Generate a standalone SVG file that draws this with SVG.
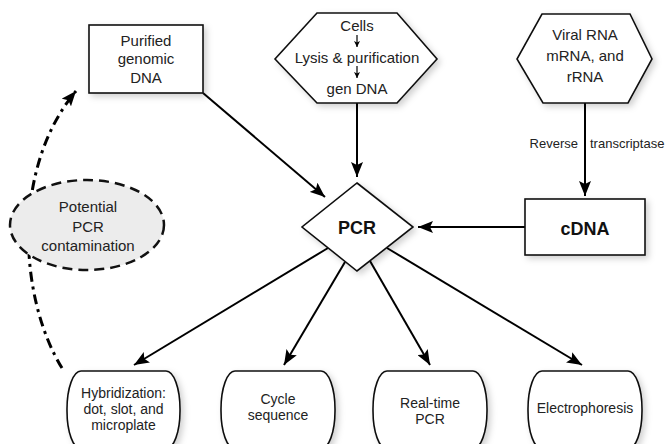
<svg xmlns="http://www.w3.org/2000/svg" width="670" height="444" viewBox="0 0 670 444">
<defs>
<style>
.box{fill:#fff;stroke:#111;stroke-width:1.6;filter:url(#sh)}
.t{font-family:"Liberation Sans",Arial,sans-serif;font-size:15px;fill:#222;text-anchor:middle}
.s{font-size:14px}
.b{font-weight:bold;font-size:18px;fill:#111}
.ln{stroke:#000;stroke-width:2;fill:none;marker-end:url(#ah)}
</style>
<filter id="sh" x="-20%" y="-20%" width="140%" height="140%">
<feDropShadow dx="3" dy="3" stdDeviation="3" flood-color="#000" flood-opacity="0.18"/>
</filter>
<marker id="ah" markerUnits="userSpaceOnUse" markerWidth="16" markerHeight="12" refX="15" refY="6" orient="auto">
<path d="M0,0 L15,6 L0,12 L3,6 z" fill="#000"/>
</marker>
<marker id="ahs" markerUnits="userSpaceOnUse" markerWidth="8" markerHeight="8" refX="6" refY="3" orient="auto">
<path d="M0,0 L6,3 L0,6 L1.5,3 z" fill="#000"/>
</marker>
</defs>

<g id="connectors">
<path class="ln" d="M203,93 L325,197"/>
<path class="ln" d="M357,103 L357,177"/>
<path class="ln" d="M585,103 L585,196"/>
<path class="ln" d="M525,227 L418,227"/>
<path class="ln" d="M328,248 L134,365"/>
<path class="ln" d="M345,262 L284,365"/>
<path class="ln" d="M370,261 L430,365"/>
<path class="ln" d="M387,248 L582,365"/>
<path d="M62,368 C20,300 10,170 76,91" fill="none" stroke="#000" stroke-width="3" stroke-dasharray="10 5 3 5" marker-end="url(#ah)"/>
<text class="t" x="578" y="148" style="font-size:13px;text-anchor:end">Reverse</text>
<text class="t" x="590" y="148" style="font-size:13px;text-anchor:start">transcriptase</text>
</g>

<g id="purified">
<rect class="box" x="89" y="25" width="114" height="68"/>
<text class="t" x="146" y="46">Purified</text>
<text class="t" x="146" y="64">genomic</text>
<text class="t" x="146" y="83">DNA</text>
</g>

<g id="cells">
<path class="box" d="M317,13 L397,13 L437,59 L397,103 L317,103 L275,59 Z"/>
<text class="t" x="357" y="31">Cells</text>
<path d="M357,35 L357,47" stroke="#000" stroke-width="1.2" marker-end="url(#ahs)"/>
<text class="t" x="357" y="63">Lysis &amp; purification</text>
<path d="M357,66 L357,78" stroke="#000" stroke-width="1.2" marker-end="url(#ahs)"/>
<text class="t" x="357" y="94">gen DNA</text>
</g>

<g id="viral">
<path class="box" d="M542,14 L630,14 L652,59 L628,103 L543,103 L517,59 Z"/>
<text class="t" x="585" y="40">Viral RNA</text>
<text class="t" x="585" y="61">mRNA, and</text>
<text class="t" x="585" y="82">rRNA</text>
</g>

<g id="pcr">
<path class="box" d="M357,183 L413,227 L357,271 L302,227 Z"/>
<text class="t b" x="357" y="234">PCR</text>
</g>

<g id="cdna">
<rect class="box" x="525" y="199" width="120" height="56"/>
<text class="t b" x="585" y="235">cDNA</text>
</g>

<g id="contamination">
<ellipse cx="87" cy="225" rx="77" ry="45" fill="#ececec" stroke="#111" stroke-width="2.5" stroke-dasharray="10 6"/>
<text class="t" x="88" y="212">Potential</text>
<text class="t" x="88" y="232">PCR</text>
<text class="t" x="88" y="251">contamination</text>
</g>

<g id="hybridization">
<rect class="box" x="67" y="371" width="113" height="78" rx="14" ry="38"/>
<text class="t s" x="123.5" y="398">Hybridization:</text>
<text class="t s" x="123.5" y="414">dot, slot, and</text>
<text class="t s" x="123.5" y="430">microplate</text>
</g>

<g id="cycle">
<rect class="box" x="221" y="371" width="114" height="78" rx="14" ry="38"/>
<text class="t s" x="278" y="404">Cycle</text>
<text class="t s" x="278" y="420">sequence</text>
</g>

<g id="realtime">
<rect class="box" x="373" y="371" width="114" height="78" rx="14" ry="38"/>
<text class="t s" x="430" y="408">Real-time</text>
<text class="t s" x="430" y="424">PCR</text>
</g>

<g id="electrophoresis">
<rect class="box" x="528" y="371" width="114" height="78" rx="14" ry="38"/>
<text class="t s" x="585" y="413">Electrophoresis</text>
</g>
</svg>
